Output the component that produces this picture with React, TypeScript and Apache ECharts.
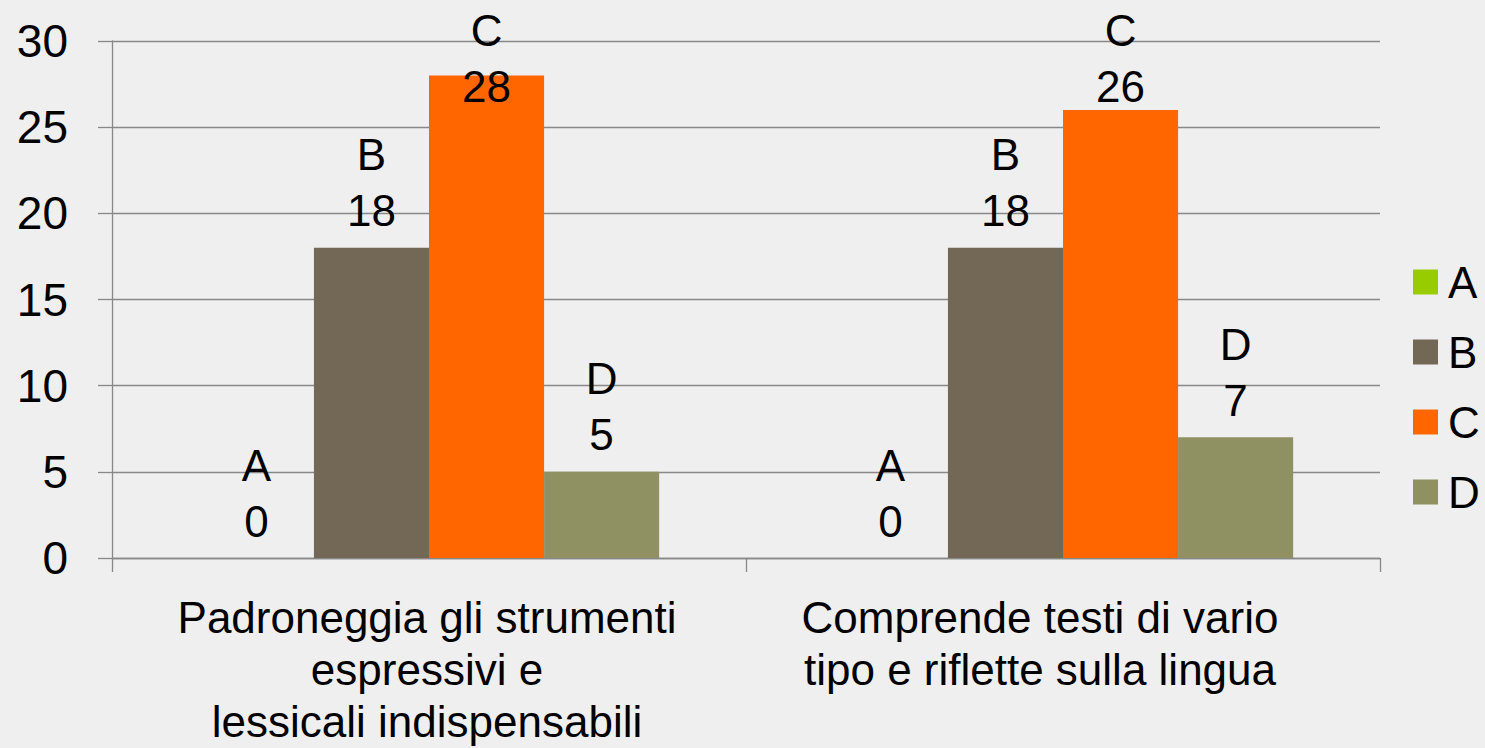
import React, { useEffect, useRef } from "react";
import * as echarts from "echarts";

const categories = [
  "Padroneggia gli strumenti\nespressivi e\nlessicali indispensabili",
  "Comprende testi di vario\ntipo e riflette sulla lingua",
];
const seriesNames = ["A", "B", "C", "D"];
const valuesA = [0, 0];
const valuesB = [18, 18];
const valuesC = [28, 26];
const valuesD = [5, 7];
const colors = ["#99CC00", "#736856", "#FF6600", "#8F9163"];
const yTicks = { min: 0, max: 30, interval: 5 };

const FONT = "'Liberation Sans', Arial, sans-serif";
const LABEL_LH = 56;
const LABEL_DIST = 9;
const LABEL_MIN_TOP = 2;

export default function App() {
  const ref = useRef<HTMLDivElement>(null);
  useEffect(() => {
    document.body.style.margin = "0";
    const chart = echarts.init(ref.current!, null, { renderer: "svg" });
    const all = [valuesA, valuesB, valuesC, valuesD];
    const makeSeries = (offsets: number[][] | null) =>
      all.map((vals, si) => ({
        name: seriesNames[si],
        type: "bar",
        barGap: "0%",
        barCategoryGap: "27.4%",
        itemStyle: { color: colors[si] },
        label: {
          show: true,
          position: "top",
          distance: LABEL_DIST,
          formatter: "{a}\n{c}",
          fontSize: 44,
          lineHeight: LABEL_LH,
          color: "#000",
          fontFamily: FONT,
        },
        data: vals.map((v, ci) => ({
          value: v,
          label: offsets ? { offset: [0, offsets[si][ci]] } : undefined,
        })),
      }));
    const catText = { fontSize: 44, lineHeight: 52, color: "#000", fontFamily: FONT };
    const option: any = {
      animation: false,
      backgroundColor: "#efefef",
      grid: {
        left: 112,
        right: 105,
        top: 41,
        bottom: 190,
        containLabel: false,
        outerBoundsMode: "none",
      },
      legend: {
        orient: "vertical",
        left: 1408,
        top: 255,
        itemWidth: 25,
        itemHeight: 25,
        itemGap: 26,
        icon: "rect",
        data: seriesNames,
        textStyle: { fontSize: 44, color: "#000", fontFamily: FONT, padding: [0, 0, 0, 5] },
      },
      xAxis: {
        type: "category",
        data: categories,
        axisLine: { lineStyle: { color: "#888", width: 1.3 } },
        axisTick: { show: true, length: 14, lineStyle: { color: "#888", width: 1.3 } },
        axisLabel: {
          margin: 33,
          ...catText,
          interval: 0,
          formatter: (v: string, i: number) => (i === 1 ? `{s|${v}}` : `{n|${v}}`),
          rich: {
            s: { ...catText, padding: [0, 46, 0, 0] },
            n: { ...catText, padding: [0, 4, 0, 0] },
          },
        },
      },
      yAxis: {
        type: "value",
        min: yTicks.min,
        max: yTicks.max,
        interval: yTicks.interval,
        axisLine: { show: true, lineStyle: { color: "#888", width: 1.3 } },
        axisTick: { show: true, length: 14, lineStyle: { color: "#888", width: 1.3 } },
        splitLine: { lineStyle: { color: "#888", width: 1.3 } },
        axisLabel: { margin: 44, fontSize: 46, color: "#000", fontFamily: FONT },
      },
      series: makeSeries(null),
    };
    chart.setOption(option);
    // clamp labels inside the chart top, like the original
    const offsets = all.map((vals) =>
      vals.map((v, ci) => {
        const y = chart.convertToPixel({ gridIndex: 0 }, [ci, v])[1];
        const top = y - LABEL_DIST - 2 * LABEL_LH;
        return top < LABEL_MIN_TOP ? LABEL_MIN_TOP - top : 0;
      })
    );
    chart.setOption({ series: makeSeries(offsets) });
    return () => chart.dispose();
  }, []);
  return <div ref={ref} style={{ width: 1485, height: 748 }} />;
}
